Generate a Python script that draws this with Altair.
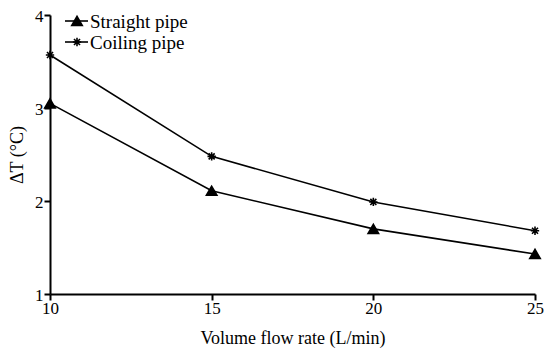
import altair as alt
import pandas as pd

flow = [10, 15, 20, 25]
straight = [3.05, 2.11, 1.70, 1.43]
coiling = [3.57, 2.48, 1.99, 1.68]
series_names = ["Straight pipe", "Coiling pipe"]

ASTERISK = "M0,-1L0,1M-1,0L1,0M-0.72,-0.72L0.72,0.72M-0.72,0.72L0.72,-0.72"
shapes = ["triangle-up", ASTERISK]
sizes = [110, 70]

rows = []
for f, s, c in zip(flow, straight, coiling):
    rows.append({"flow": f, "dT": s, "series": series_names[0]})
    rows.append({"flow": f, "dT": c, "series": series_names[1]})
df = pd.DataFrame(rows)

FONT = "Liberation Serif"

x = alt.X("flow:Q", title="Volume flow rate (L/min)",
          scale=alt.Scale(domain=[10, 25], nice=False, zero=False),
          axis=alt.Axis(values=flow, grid=False, labelFlush=False, labelPadding=0, titlePadding=13))
y = alt.Y("dT:Q", title="\u0394T (\u00b0C)",
          scale=alt.Scale(domain=[1, 4], nice=False, zero=False),
          axis=alt.Axis(values=[1, 2, 3, 4], grid=False, labelFlush=False, labelPadding=1,
                        labelOffset=1.5, titlePadding=8))

base = alt.Chart(df)
lines = base.mark_line(color="black", strokeWidth=1.6).encode(x=x, y=y, detail="series:N")
points = base.mark_point(filled=True, fill="black", stroke="black", strokeWidth=1.6, opacity=1).encode(
    x=x, y=y,
    shape=alt.Shape("series:N", scale=alt.Scale(domain=series_names, range=shapes), legend=None),
    size=alt.Size("series:N", scale=alt.Scale(domain=series_names, range=sizes), legend=None),
)

layers = [lines, points]
for i, name in enumerate(series_names):
    yy = 6 + i * 21
    d = alt.Chart(pd.DataFrame({"label": [name]}))
    layers.append(d.mark_rule(color="black", strokeWidth=1.6).encode(
        x=alt.value(15), x2=alt.value(38), y=alt.value(yy)))
    layers.append(d.mark_point(filled=True, fill="black", stroke="black", strokeWidth=1.6, opacity=1,
                               shape=shapes[i], size=sizes[i]).encode(
        x=alt.value(27), y=alt.value(yy)))
    layers.append(d.mark_text(align="left", baseline="middle", font=FONT, fontSize=19, color="black").encode(
        x=alt.value(40), y=alt.value(yy + 1), text="label:N"))

chart = alt.layer(*layers).properties(
    width=485, height=279,
    autosize=alt.AutoSizeParams(type="none"),
    padding={"left": 42, "top": 7, "right": 9, "bottom": 58},
).configure_view(stroke=None).configure_axis(
    domainColor="black", domainWidth=2, tickColor="black", tickWidth=2, tickSize=6,
    labelFont=FONT, labelFontSize=17, labelColor="black",
    titleFont=FONT, titleFontSize=18, titleFontWeight="normal", titleColor="black",
)

chart.save("out.html", embed_options={"renderer": "svg", "actions": False})
